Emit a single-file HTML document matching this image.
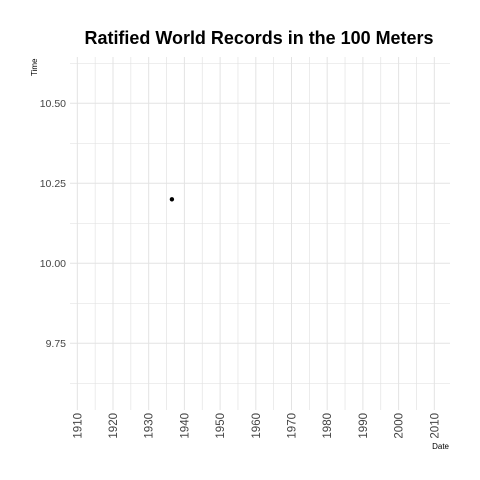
<!DOCTYPE html>
<html><head><meta charset="utf-8"><style>
body{margin:0;background:#fff}
svg{display:block;font-family:"Liberation Sans",sans-serif}
</style></head><body>
<svg width="480" height="480">
<text x="259" y="44" text-anchor="middle" font-size="18" font-weight="bold" fill="#000" textLength="349" lengthAdjust="spacingAndGlyphs">Ratified World Records in the 100 Meters</text>
<g id="grid"></g>
<g id="yticks"></g>
<g id="xticks"></g>
<g id="marks"></g>
<text transform="translate(37,76) rotate(-90)" font-size="8" fill="#000">Time</text>
<text x="449" y="449" text-anchor="end" font-size="8" fill="#000">Date</text>
</svg>
<script>
const years=[1936.5];
const times=[10.2];
const xTicks=[1910,1920,1930,1940,1950,1960,1970,1980,1990,2000,2010];
const yTicks=[9.75,10.0,10.25,10.5];
const yLabels=["9.75","10.00","10.25","10.50"];
const NS="http://www.w3.org/2000/svg";
const L=70,R=450,T=57,B=410;
function xs(v){return 77.3+(v-1910)*3.57;}
function ys(v){return 263.3-(v-10)*320;}
function mk(tag,a,p){const e=document.createElementNS(NS,tag);for(const k in a)e.setAttribute(k,a[k]);p.appendChild(e);return e;}
const g=document.getElementById('grid');
for(let y=1905;y<=2015;y+=5){const x=xs(y);if(x<L||x>R)continue;
const l=mk('line',{x1:x,x2:x,y1:T,y2:B,stroke:'#e3e3e3','stroke-width':y%10==0?1:0.7},g);

}
for(let v=9.5;v<=10.75;v+=0.125){const y=ys(v);if(y<T||y>B)continue;
const l=mk('line',{x1:L,x2:R,y1:y,y2:y,stroke:'#e3e3e3','stroke-width':Math.abs(v*4-Math.round(v*4))<1e-6?1:0.7},g);

}
const yt=document.getElementById('yticks');
yTicks.forEach((v,i)=>{const t=mk('text',{x:66,y:ys(v)+3.5,'text-anchor':'end','font-size':'10.5',fill:'#444'},yt);t.textContent=yLabels[i];

});
const xt=document.getElementById('xticks');
xTicks.forEach(v=>{const x=xs(v);const t=mk('text',{transform:`translate(${x+4},413) rotate(-90)`,'text-anchor':'end','font-size':'11.5',fill:'#444'},xt);t.textContent=v;

});
const m=document.getElementById('marks');
years.forEach((v,i)=>{const c=mk('circle',{cx:xs(v),cy:ys(times[i]),r:2.2,fill:'#000'},m);

});
</script>
</body></html>
